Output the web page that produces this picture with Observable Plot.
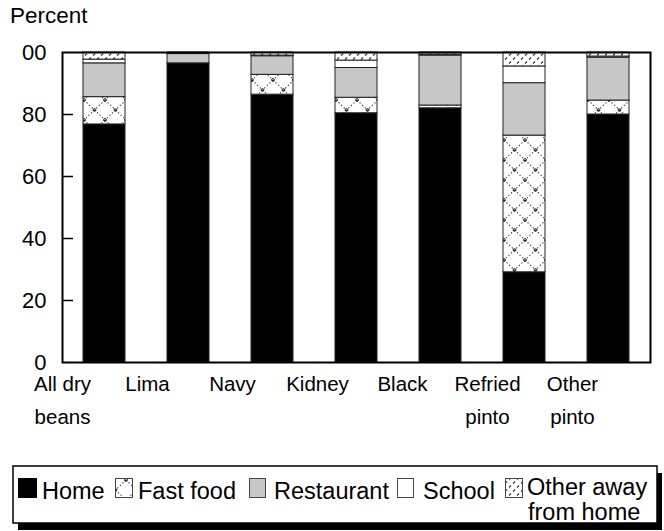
<!DOCTYPE html>
<html><head><meta charset="utf-8">
<script src="https://cdn.jsdelivr.net/npm/d3@7"></script>
<script src="https://cdn.jsdelivr.net/npm/@observablehq/plot@0.6"></script>
<style>
html,body{margin:0;padding:0;background:#fff;}
#root{position:relative;width:664px;height:531px;overflow:hidden;font-family:"Liberation Sans",Arial,Helvetica,sans-serif;}
#root > svg{position:absolute;left:0;}
</style></head><body>
<svg width="0" height="0" style="position:absolute">
<defs>
<pattern id="fastfood" patternUnits="userSpaceOnUse" width="21" height="20">
  <rect width="21" height="20" fill="#fff"/>
  <path d="M0,0L21,20M21,0L0,20" stroke="#333" stroke-width="1.1" stroke-dasharray="1.2,2.4" fill="none"/>
  <circle cx="10.5" cy="10" r="1.4" fill="none" stroke="#222" stroke-width="1"/>
  <circle cx="0" cy="0" r="1.4" fill="none" stroke="#222" stroke-width="1"/>
  <circle cx="21" cy="0" r="1.4" fill="none" stroke="#222" stroke-width="1"/>
  <circle cx="0" cy="20" r="1.4" fill="none" stroke="#222" stroke-width="1"/>
  <circle cx="21" cy="20" r="1.4" fill="none" stroke="#222" stroke-width="1"/>
</pattern>
<pattern id="otheraway" patternUnits="userSpaceOnUse" width="8" height="8">
  <rect width="8" height="8" fill="#fff"/>
  <path d="M1,3.5L3,1.5M5,7.5L7,5.5" stroke="#333" stroke-width="1.1" fill="none"/>
</pattern>
</defs></svg>
<div id="root"></div>
<script>
// ---- data ----
const beans = ["All dry beans","Lima","Navy","Kidney","Black","Refried pinto","Other pinto"];
const beanLabels = ["All dry\nbeans","Lima","Navy","Kidney","Black","Refried\npinto","Other\npinto"];
const places = ["Home","Fast food","Restaurant","School","Other away from home"];
const home       = [76.8, 96.5, 86.4, 80.4, 82.0, 29.1, 80.0];
const fastFood   = [ 8.8,  0.0,  6.4,  5.0,  0.9, 44.1,  4.5];
const restaurant = [10.9,  3.0,  6.0,  9.6, 16.1, 16.9, 13.8];
const school     = [ 1.2,  0.0,  0.2,  2.4,  0.3,  5.4,  0.4];
const otherAway  = [ 2.3,  0.5,  1.0,  2.6,  0.7,  4.5,  1.3];
const yTicks = [0, 20, 40, 60, 80, 100];
const yTickLabels = ["0", "20", "40", "60", "80", "00"];
const legendLabels = [["Home"], ["Fast food"], ["Restaurant"], ["School"], ["Other away", "from home"]];
// ---- styles ----
const placeFills = ["#000", "url(#fastfood)", "#c8c8c8", "#fff", "url(#otheraway)"];
const FONT = '"Liberation Sans", Arial, Helvetica, sans-serif';

const series = [home, fastFood, restaurant, school, otherAway];
const rows = [];
places.forEach((p, j) => beans.forEach((b, i) => rows.push({bean: b, place: p, value: series[j][i]})));

const root = document.getElementById("root");

const chart = Plot.plot({
  width: 664, height: 372,
  marginTop: 52, marginBottom: 10, marginLeft: 62, marginRight: 14,
  style: {fontFamily: FONT, fontSize: "22px", color: "#000", background: "transparent", overflow: "visible"},
  x: {domain: beans, paddingInner: 0.5, paddingOuter: 0.25, axis: null},
  y: {domain: [0, 100]},
  color: {type: "ordinal", domain: places, range: placeFills},
  marks: [
    Plot.barY(rows, {x: "bean", y: "value", z: "place", fill: "place", order: places, stroke: "#222", strokeWidth: 1}),
    Plot.tickY(yTicks.slice(1, -1), {y: d => d, insetRight: 577, stroke: "#000", strokeWidth: 1.5}),
    Plot.axisY({ticks: yTicks, tickFormat: d => yTickLabels[yTicks.indexOf(d)], tickSize: 0, tickPadding: 16, fontSize: 22, label: null}),
    Plot.frame({stroke: "#000", strokeWidth: 2})
  ]
});
chart.style.top = "0px";
root.appendChild(chart);

const labelsPlot = Plot.plot({
  width: 664, height: 90,
  marginTop: 5, marginBottom: 0, marginLeft: 59, marginRight: 90,
  style: {fontFamily: FONT, color: "#000", background: "transparent", overflow: "visible"},
  x: {domain: beans, padding: 0, axis: null},
  marks: [
    Plot.text(beans, {x: d => d, text: (d, i) => beanLabels[i], frameAnchor: "top", lineAnchor: "top", lineHeight: 1.62, fontSize: 20.5, fill: "#000"})
  ]
});
labelsPlot.style.top = "362px";
root.appendChild(labelsPlot);

// Overlay: y title + legend
const svg = d3.select(root).append("svg").attr("width", 664).attr("height", 531).style("top", "0px")
  .style("font-family", FONT);
svg.append("text").attr("x", 10).attr("y", 22.5).attr("font-size", 22.5).text("Percent");

const lg = svg.append("g");
lg.append("rect").attr("x", 18).attr("y", 473).attr("width", 644).attr("height", 57).attr("fill", "#000");
lg.append("rect").attr("x", 13).attr("y", 466).attr("width", 644).attr("height", 57).attr("fill", "#fff").attr("stroke", "#000").attr("stroke-width", 1.5);
const swatchX = [18, 115, 249, 397, 505];
const swatchW = [18, 17, 16, 16, 17];
const textX = [42, 138, 274, 423, 527];
places.forEach((p, j) => {
  lg.append("rect").attr("x", swatchX[j] + 0.5).attr("y", 478.5).attr("width", swatchW[j]).attr("height", 19)
    .attr("fill", placeFills[j]).attr("stroke", j === 0 ? "#000" : "#444").attr("stroke-width", 1);
  const lines = legendLabels[j];
  const t = lg.append("text").attr("font-size", 23.5).attr("x", textX[j]);
  if (lines.length === 1) {
    t.attr("y", 499).text(lines[0]);
  } else {
    t.attr("y", 494.5).text(lines[0]);
    lg.append("text").attr("font-size", 23.5).attr("x", textX[j] + 1).attr("y", 520).text(lines[1]);
  }
});
</script>
</body></html>
